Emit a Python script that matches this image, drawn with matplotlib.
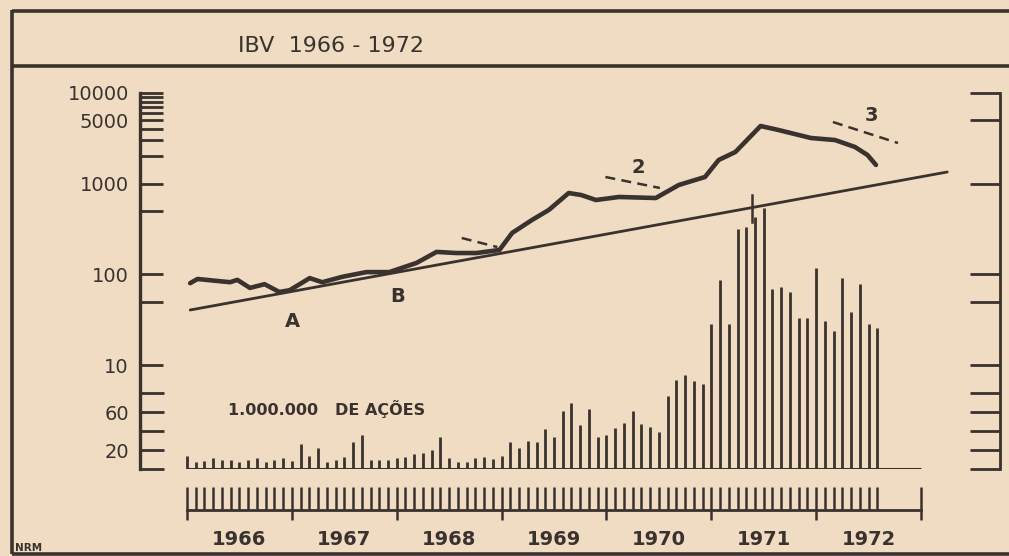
#!/usr/bin/env python3
"""
IBV 1966-1972: index on a log scale with its long-term trend line and the
monthly volume (millions of shares) as spikes along the bottom, drawn like
the old hand-lettered newspaper chart.
"""

import matplotlib
matplotlib.use("Agg")
import matplotlib.pyplot as plt
from matplotlib.ticker import NullLocator

PAPER = "#efdcc3"
INK = "#3a322e"

# index level (decimal year, points)
ibv_year = [1966.03, 1966.10, 1966.41, 1966.48, 1966.60, 1966.74, 1966.88, 1966.98,
            1967.17, 1967.29, 1967.48, 1967.71, 1967.93, 1968.19, 1968.38, 1968.57,
            1968.76, 1968.98, 1969.10, 1969.29, 1969.45, 1969.64, 1969.76, 1969.90,
            1970.12, 1970.47, 1970.69, 1970.94, 1971.07, 1971.23, 1971.47, 1971.64,
            1971.95, 1972.18, 1972.37, 1972.49, 1972.57]
ibv_value = [80, 89, 82, 87, 71, 78, 64, 67,
             91, 82, 94, 106, 106, 134, 177, 172,
             172, 186, 286, 398, 513, 789, 750, 661,
             714, 695, 968, 1186, 1825, 2238, 4325, 3910,
             3190, 3030, 2540, 2070, 1610]

# long-term trend line (two ends)
trend_year = [1966.03, 1973.25]
trend_value = [40.5, 1346]

# short dashed resistance lines
dash_a_year, dash_a_value = [1968.62, 1968.96], [252, 200]
dash_2_year, dash_2_value = [1969.99, 1970.51], [1186, 897]
dash_3_year, dash_3_value = [1972.16, 1972.78], [4786, 2810]

# little vertical mark on the trend line in 1971
mark_year, mark_value = [1971.39, 1971.39], [750, 380]

# monthly volume, millions of shares, Jan 1966 .. Aug 1972
volume = [14, 7, 8, 12, 9, 9, 7, 10, 12, 7, 9, 12,            # 1966
          8, 26, 14, 22, 7, 10, 13, 28, 36, 10, 9, 10,        # 1967
          12, 13, 16, 17, 20, 34, 12, 7, 7, 12, 13, 11,       # 1968
          14, 28, 22, 30, 28, 42, 34, 61, 70, 46, 63, 34,     # 1969
          36, 43, 48, 61, 47, 44, 39, 77, 94, 99, 93, 90,     # 1970
          153, 199, 153, 253, 255, 265, 275, 190, 192, 186, 159, 159,  # 1971
          212, 156, 145, 201, 165, 195, 153, 148]             # 1972

years = [1966, 1967, 1968, 1969, 1970, 1971, 1972]

price_ticks_left = [10, 50, 100, 500, 1000, 2000, 3000, 4000, 5000,
                    6000, 7000, 8000, 9000, 10000]
price_labels = {10: "10", 100: "100", 1000: "1000", 5000: "5000", 10000: "10000"}
price_ticks_right = [10, 50, 100, 1000, 5000, 10000]
vol_ticks = [0, 20, 40, 60, 80]
vol_labels = {20: "20", 60: "60"}

fig = plt.figure(figsize=(10.09, 5.56), dpi=100, facecolor=PAPER)

# frame and title band (pixel coordinates)
frame = fig.add_axes([0, 0, 1, 1], zorder=0)
frame.set_xlim(0, 1009)
frame.set_ylim(556, 0)
frame.axis("off")
for xs, ys in [([12, 12], [10, 554]), ([12, 1009], [11, 11]),
               ([12, 1009], [66, 66]), ([12, 1009], [554, 554])]:
    frame.plot(xs, ys, color=INK, lw=2.6, solid_capstyle="butt")
frame.text(238, 46, "IBV  1966 - 1972", ha="left", va="center",
           fontsize=16, color=INK)
frame.text(15, 548, "NRM", ha="left", va="center", fontsize=7.5,
           fontweight="bold", color=INK)

# main area: x in years, x=1966 sits at 187 px, 104.86 px per year
x_lo = 1966 + (140 - 187) / 104.86
x_hi = 1966 + (1000 - 187) / 104.86
rect = [140 / 1009, 1 - 469 / 556, 860 / 1009, 376 / 556]

ax = fig.add_axes(rect, zorder=3)
ax.patch.set_visible(False)
ax.set_yscale("log")
ax.set_xlim(x_lo, x_hi)
ax.set_ylim(10 ** (4 - 376 / 90.7), 10000)

ax_r = ax.twinx()
ax_r.set_yscale("log")
ax_r.set_ylim(ax.get_ylim())
ax_r.set_zorder(2)
ax_r.patch.set_visible(False)

ax_v = ax.twinx()
ax_v.set_ylim(0, 376 / 0.95)
ax_v.set_zorder(1)
ax_v.patch.set_visible(False)

for a in (ax, ax_r, ax_v):
    for s in a.spines.values():
        s.set_visible(False)
    a.xaxis.set_visible(False)
ax.spines["left"].set_visible(True)
ax.spines["left"].set_linewidth(2.4)
ax.spines["left"].set_color(INK)
ax_r.spines["right"].set_visible(True)
ax_r.spines["right"].set_linewidth(2.0)
ax_r.spines["right"].set_color(INK)

ax.set_yticks(price_ticks_left, labels=[price_labels.get(t, "") for t in price_ticks_left])
ax.yaxis.set_minor_locator(NullLocator())
ax.yaxis.tick_left()
ax.tick_params(axis="y", direction="in", length=16.5, width=2.0, color=INK,
               labelcolor=INK, labelsize=14, pad=8)

ax_r.set_yticks(price_ticks_right, labels=[""] * len(price_ticks_right))
ax_r.yaxis.set_minor_locator(NullLocator())
ax_r.yaxis.tick_right()
ax_r.tick_params(axis="y", direction="in", length=21.5, width=2.0, color=INK)

ax_v.set_yticks(vol_ticks, labels=[vol_labels.get(t, "") for t in vol_ticks])
ax_v.yaxis.set_ticks_position("both")
ax_v.tick_params(axis="y", direction="in", width=2.0, color=INK, labelcolor=INK,
                 labelsize=14, pad=8, labelleft=True, labelright=False)
for t in ax_v.yaxis.get_major_ticks():
    t.tick1line.set_markersize(17)
    t.tick2line.set_markersize(21.5)

# volume spikes
vol_x = [1966 + m / 12 for m in range(len(volume))]
ax_v.vlines(vol_x, 0, volume, color=INK, lw=2.0)
ax_v.hlines(0, years[0], years[-1] + 1, color=INK, lw=2.2)
ax_v.text(1966.39, 63, "1.000.000   DE AÇÕES", ha="left", va="center",
          fontsize=11.5, fontweight="bold", color=INK)

# index, trend and annotations
ax.plot(trend_year, trend_value, color=INK, lw=2.0, solid_capstyle="round")
ax.plot(ibv_year, ibv_value, color=INK, lw=3.3, solid_joinstyle="round",
        solid_capstyle="round")
for dx, dy in [(dash_a_year, dash_a_value), (dash_2_year, dash_2_value),
               (dash_3_year, dash_3_value)]:
    ax.plot(dx, dy, color=INK, lw=1.8, dashes=(4, 2.5))
ax.plot(mark_year, mark_value, color=INK, lw=1.8)
for tx, ty, s in [(1967.01, 30.6, "A"), (1968.01, 56.4, "B"),
                  (1970.30, 1528, "2"), (1972.53, 5715, "3")]:
    ax.text(tx, ty, s, ha="center", va="center", fontsize=14,
            fontweight="bold", color=INK)

# time scale strip: monthly ticks up from the baseline, years down
ax_t = fig.add_axes([140 / 1009, 1 - 510 / 556, 860 / 1009, 23 / 556],
                    sharex=ax, zorder=3)
ax_t.patch.set_visible(False)
for s in ax_t.spines.values():
    s.set_visible(False)
ax_t.spines["bottom"].set_visible(True)
ax_t.spines["bottom"].set_bounds(years[0], years[-1] + 1)
ax_t.spines["bottom"].set_linewidth(2.0)
ax_t.spines["bottom"].set_color(INK)
ax_t.set_yticks([])
ax_t.xaxis.remove_overlapping_locs = False
month_ticks = [1966 + m / 12 for m in range(len(volume))] + [years[-1] + 1]
ax_t.set_xticks(month_ticks, minor=True)
ax_t.set_xticks(years + [years[-1] + 1], labels=[""] * (len(years) + 1))
ax_t.tick_params(axis="x", which="minor", direction="in", length=16.5,
                 width=1.8, color=INK)
ax_t.tick_params(axis="x", which="major", direction="out", length=7.5,
                 width=1.8, color=INK)
for y in years:
    ax_t.text(y + 0.5, -1.3, str(y), transform=ax_t.get_xaxis_transform(),
              ha="center", va="center", fontsize=14, fontweight="bold", color=INK)

fig.savefig("out.png", dpi=100, facecolor=PAPER)
